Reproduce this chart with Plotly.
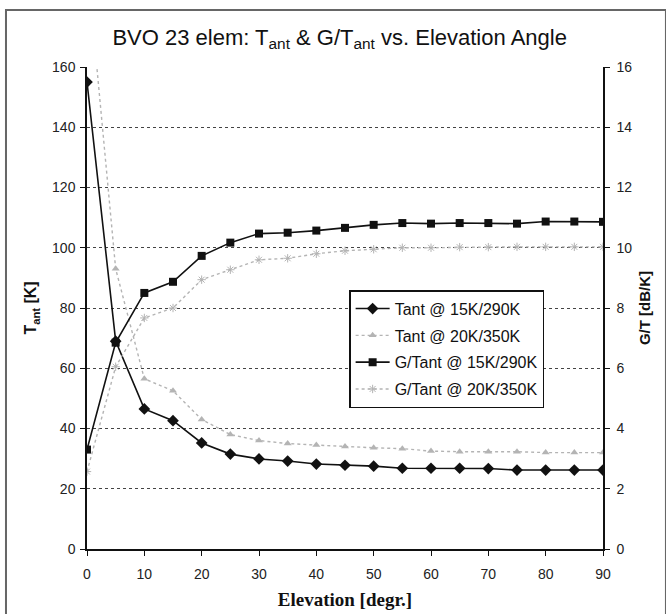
import plotly.graph_objects as go

elevation = [0, 5, 10, 15, 20, 25, 30, 35, 40, 45, 50, 55, 60, 65, 70, 75, 80, 85, 90]
tant_15_290 = [155, 69, 46.5, 42.6, 35.2, 31.5, 29.9, 29.2, 28.2, 27.8, 27.5, 26.8, 26.8, 26.8, 26.7, 26.2, 26.2, 26.2, 26.2]
tant_20_350 = [195, 93, 56.5, 52.5, 43, 38, 36, 35, 34.5, 34, 33.6, 33.3, 32.5, 32.3, 32.3, 32.3, 32, 32, 32]
gt_15_290 = [3.3, 6.85, 8.5, 8.87, 9.73, 10.17, 10.47, 10.5, 10.57, 10.66, 10.76, 10.82, 10.8, 10.82, 10.82, 10.8, 10.87, 10.87, 10.86]
gt_20_350 = [2.57, 6.05, 7.67, 8.0, 8.94, 9.27, 9.6, 9.65, 9.8, 9.9, 9.95, 10.0, 10.0, 10.02, 10.02, 10.03, 10.03, 10.03, 10.03]

names = ["Tant @ 15K/290K", "Tant @ 20K/350K", "G/Tant @ 15K/290K", "G/Tant @ 20K/350K"]

BLACK = "#111111"
GRAY = "#b4b4b4"
FONT = "Liberation Sans, Arial, sans-serif"

fig = go.Figure()
fig.add_trace(go.Scatter(x=elevation, y=tant_15_290, name=names[0], legendgroup="a", mode="lines+markers",
                         line=dict(color=BLACK, width=1.6),
                         marker=dict(symbol="diamond", size=9, color=BLACK), yaxis="y"))
fig.add_trace(go.Scatter(x=elevation, y=tant_20_350, name=names[1], legendgroup="b", mode="lines+markers",
                         line=dict(color=GRAY, width=1.4, dash="dot"),
                         marker=dict(symbol="triangle-up", size=7, color=GRAY), yaxis="y"))
fig.add_trace(go.Scatter(x=elevation, y=gt_15_290, name=names[2], legendgroup="c", mode="lines+markers",
                         line=dict(color=BLACK, width=1.6),
                         marker=dict(symbol="square", size=8, color=BLACK), yaxis="y2"))
fig.add_trace(go.Scatter(x=elevation, y=gt_20_350, name=names[3], legendgroup="d", mode="lines+markers",
                         line=dict(color=GRAY, width=1.4, dash="dot"),
                         marker=dict(symbol="asterisk-open", size=7, color=GRAY, line=dict(color=GRAY, width=1)),
                         yaxis="y2"))

axis_common = dict(showline=True, linecolor=BLACK, linewidth=1.5, ticks="outside", ticklen=5,
                   tickcolor=BLACK, tickfont=dict(family=FONT, size=14, color="#222"), zeroline=False)

fig.update_layout(
    width=666, height=614,
    margin=dict(l=87, r=63, t=67, b=65),
    paper_bgcolor="white", plot_bgcolor="white",
    font=dict(family=FONT, color="#111"),
    showlegend=True,
    title=dict(text="BVO 23 elem: T<sub>ant</sub> & G/T<sub>ant</sub> vs. Elevation Angle",
               x=0.51, xanchor="center", y=0.94, yanchor="middle",
               font=dict(family=FONT, size=22, color="#111")),
    xaxis=dict(range=[0, 90], dtick=10, showgrid=False, ticklabelstandoff=6, automargin=False,
               title=dict(text="<b>Elevation [degr.]</b>", font=dict(family="Liberation Serif, serif", size=19), standoff=12),
               **axis_common),
    yaxis=dict(range=[0, 160], dtick=20, showgrid=True, gridcolor="#444", griddash="dot", gridwidth=1,
               ticklabelstandoff=2,
               title=dict(text="<b>T<sub>ant</sub> [K]</b>", font=dict(family=FONT, size=16), standoff=11),
               **axis_common),
    yaxis2=dict(range=[0, 16], dtick=2, overlaying="y", side="right", showgrid=False, ticklabelstandoff=4,
                title=dict(text="<b>G/T [dB/K]</b>", font=dict(family=FONT, size=15), standoff=8),
                **axis_common),
    legend=dict(x=0.508, y=0.537, xanchor="left", yanchor="top",
                bgcolor="white", bordercolor=BLACK, borderwidth=1.5,
                font=dict(family=FONT, size=16, color="#111"), tracegroupgap=3,
                itemwidth=34),
    shapes=[dict(type="rect", xref="paper", yref="paper",
                 x0=-0.157, x1=1.122, y0=-0.16, y1=1.118,
                 line=dict(color="#666", width=2), layer="below")],
)

fig.write_html("out.html")
